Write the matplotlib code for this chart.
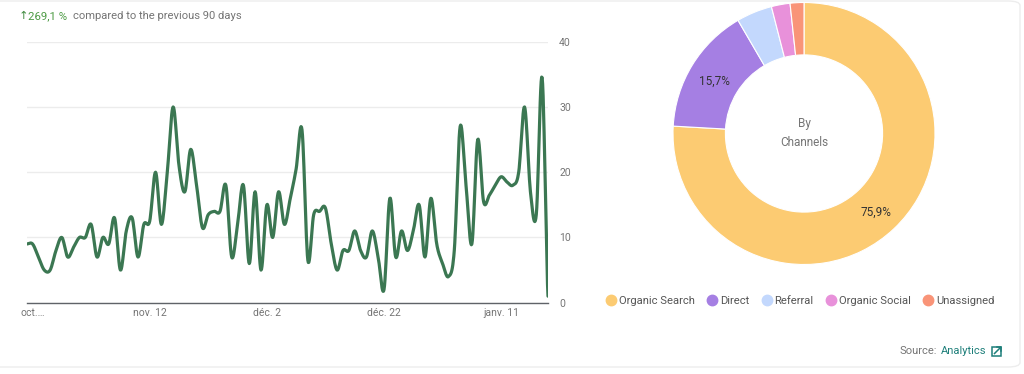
import numpy as np
import matplotlib
matplotlib.use("Agg")
import matplotlib.pyplot as plt
from matplotlib.lines import Line2D
from matplotlib.patches import FancyBboxPatch, Rectangle
import matplotlib.transforms as mtransforms

plt.rcParams['font.family'] = ['Roboto', 'DejaVu Sans']

# ---------------- data ----------------
daily_users = [9, 9, 7, 5, 5, 8, 10, 7, 8.5, 10,
               10, 12, 7, 10, 9, 13, 5, 11, 13, 7,
               12, 12.5, 20, 12, 20, 30, 21, 17, 23.5, 18,
               11.5, 13.5, 14, 14, 18, 7, 12, 18, 6, 17,
               5, 15, 10, 17, 12, 16, 20.5, 26.5, 6.5, 13.5,
               14, 14.5, 9, 5, 8, 8, 11, 8, 7, 11,
               7, 2, 16, 7, 11, 8, 11, 15, 7, 16,
               9, 6, 4, 8, 27, 18, 9, 25, 15.5, 16.5,
               18, 19.3, 18.5, 18, 20, 30, 17, 13.5, 34.5, 1]
x_tick_idx = [0, 21, 41, 61, 81]
x_tick_labels = ["oct.…", "nov. 12", "déc. 2", "déc. 22", "janv. 11"]
y_ticks = [0, 10, 20, 30, 40]

channels = ["Organic Search", "Direct", "Referral", "Organic Social", "Unassigned"]
shares = [75.9, 15.7, 4.4, 2.3, 1.7]
colors = ["#FCCB72", "#A57FE3", "#C3D8FD", "#E891DA", "#F99478"]

change_text = "269,1 %"
# --------------------------------------

W, H = 1024, 374
fig = plt.figure(figsize=(W / 100, H / 100), dpi=100)
fig.patch.set_facecolor("white")

def fx(px):
    return px / W

def fy(py):
    return 1 - py / H

# card outline (faint)
card = FancyBboxPatch((fx(-20), fy(367)), fx(1040), fy(1) - fy(367),
                      boxstyle="round,pad=0,rounding_size=0.012",
                      transform=fig.transFigure, fc="none", ec="#ededed", lw=1.0)
fig.patches.append(card)

# ---------- line chart ----------
left, right = 26.7, 548
top, bottom = 41.7, 302.7
ax = fig.add_axes([fx(left), fy(bottom), fx(right) - fx(left), fy(top) - fy(bottom)])

y = np.asarray(daily_users, dtype=float)
n = len(y)

# Catmull-Rom smoothing for drawing the curve
p = np.concatenate([[y[0]], y, [y[-1]]])
xs, ys = [], []
t = np.linspace(0, 1, 12, endpoint=False)
for i in range(n - 1):
    p0, p1, p2, p3 = p[i], p[i + 1], p[i + 2], p[i + 3]
    m1 = (p2 - p0) / 2
    m2 = (p3 - p1) / 2
    h00 = 2 * t**3 - 3 * t**2 + 1
    h10 = t**3 - 2 * t**2 + t
    h01 = -2 * t**3 + 3 * t**2
    h11 = t**3 - t**2
    xs.append(i + t)
    ys.append(h00 * p1 + h10 * m1 + h01 * p2 + h11 * m2)
xs.append([n - 1])
ys.append([y[-1]])
xs = np.concatenate(xs)
ys = np.concatenate(ys)

ax.plot(xs, ys, color="#3B7752", lw=2.3, solid_capstyle="round", zorder=3)
ax.set_xlim(0, n - 1)
ax.set_ylim(0, 40)
for s in ["top", "left", "right"]:
    ax.spines[s].set_visible(False)
ax.spines["bottom"].set_color("#5f6368")
ax.spines["bottom"].set_linewidth(1.0)
ax.set_yticks(y_ticks)
ax.yaxis.tick_right()
ax.tick_params(axis="y", length=0, pad=8, labelsize=7.5, labelcolor="#757575")
ax.set_xticks(x_tick_idx)
ax.set_xticklabels(x_tick_labels)
ax.tick_params(axis="x", length=0, pad=4, labelsize=7.5, labelcolor="#757575")
ax.grid(axis="y", color="#ececec", lw=1.0)
ax.set_axisbelow(True)
first = ax.get_xticklabels()[0]
first.set_ha("left")
first.set_transform(first.get_transform() + mtransforms.ScaledTranslation(-6 / 100, 0, fig.dpi_scale_trans))

# header text
fig.text(fx(19), fy(16), "↑", color="#3E8A3E", fontsize=8.2, va="center", ha="left",
         family=["DejaVu Sans"])
fig.text(fx(28), fy(16), change_text, color="#4C9A43", fontsize=8.2, va="center", ha="left")
fig.text(fx(73), fy(16), "compared to the previous 90 days", color="#757575", fontsize=8.1,
         va="center", ha="left")

# ---------- donut ----------
cx, cy, r = 804, 133.5, 131
ax2 = fig.add_axes([fx(cx - r), fy(cy + r), fx(2 * r), fy(cy - r) - fy(cy + r)])
wedges, _ = ax2.pie(shares, colors=colors, startangle=90, counterclock=False,
                    radius=1.0, wedgeprops=dict(width=0.4, edgecolor="white", linewidth=0.8))
ax2.set_xlim(-1, 1)
ax2.set_ylim(-1, 1)
ax2.set_aspect("auto")
ax2.axis("off")

# percentage labels for large slices
cum = 0
for share, w in zip(shares, wedges):
    if share > 10:
        mid = np.deg2rad(90 - 360 * (cum + share / 2) / 100)
        rr = 0.8
        ax2.text(rr * np.cos(mid), rr * np.sin(mid) - 0.02, f"{share:.1f}%".replace(".", ","),
                 ha="center", va="center", fontsize=8.5, color="#333333")
    cum += share

ax2.text(0, 0, "By\nChannels", ha="center", va="center", fontsize=8.5, color="#757575",
         linespacing=1.6)

# legend
handles = [Line2D([0], [0], marker="o", color="none", markerfacecolor=c, markeredgecolor=c,
                  markersize=7.5) for c in colors]
fig.legend(handles, channels, loc="center", bbox_to_anchor=(fx(800), fy(301)), ncol=5,
           frameon=False, fontsize=8.1, handletextpad=0.2, columnspacing=1.05,
           handlelength=1.0, labelcolor="#555555")

# source
fig.text(fx(937), fy(351), "Source:", color="#757575", fontsize=8, ha="right", va="center")
fig.text(fx(941), fy(351), "Analytics", color="#1E7F7A", fontsize=8, ha="left", va="center")
# open-in-new icon (drawn as shape: no installed glyph)
icon = Rectangle((fx(992), fy(356)), fx(9), fy(347) - fy(356), transform=fig.transFigure,
                 fc="none", ec="#1E7F7A", lw=1.1)
fig.patches.append(icon)
fig.add_artist(Line2D([fx(994.5), fx(1000.5)], [fy(353.5), fy(347.5)],
                      transform=fig.transFigure, color="#1E7F7A", lw=1.1))
fig.add_artist(Line2D([fx(997), fx(1001), fx(1001)], [fy(346.5), fy(346.5), fy(350.5)],
                      transform=fig.transFigure, color="#1E7F7A", lw=1.1))

fig.savefig("out.png", dpi=100, facecolor="white")
